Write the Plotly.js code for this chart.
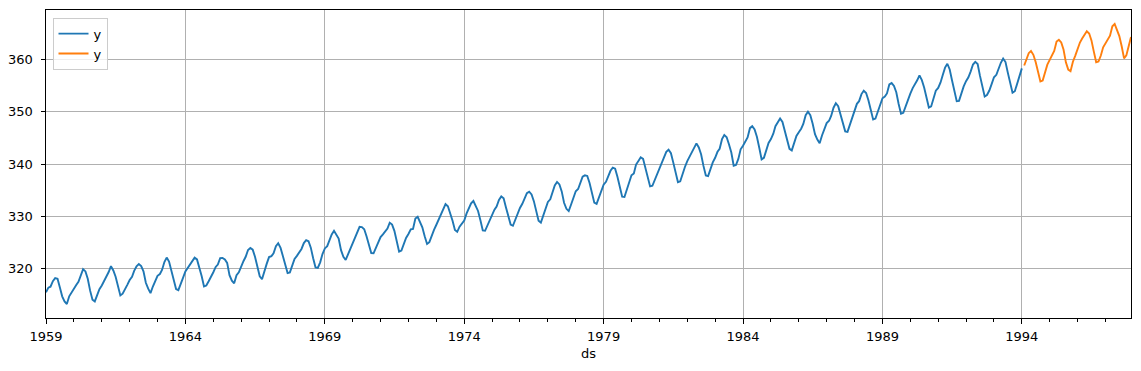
<!DOCTYPE html>
<html>
<head>
<meta charset="utf-8">
<script src="https://cdn.plot.ly/plotly-3.0.1.min.js"></script>
<style>
  html, body { margin: 0; padding: 0; background: #fff; }
  #chart { width: 1141px; height: 371px; }
</style>
</head>
<body>
<div id="chart"></div>
<script>
// Monthly CO2 (ppm), Mauna Loa
const startYear = 1959;
const trainLabel = "y";
const testLabel = "y";
const trainY = [
315.42,316.31,316.50,317.56,318.13,318.00,316.39,314.65,313.68,313.18,314.66,315.43,
316.27,316.81,317.42,318.87,319.87,319.43,318.01,315.74,314.00,313.68,314.84,316.03,
316.73,317.54,318.38,319.31,320.42,319.61,318.42,316.63,314.83,315.16,315.94,316.85,
317.78,318.40,319.53,320.42,320.85,320.45,319.45,317.25,316.11,315.27,316.53,317.53,
318.58,318.92,319.70,321.22,322.08,321.31,319.58,317.61,316.05,315.83,316.91,318.20,
319.41,320.07,320.74,321.40,322.06,321.73,320.27,318.54,316.54,316.71,317.53,318.55,
319.27,320.28,320.73,321.97,322.00,321.71,321.05,318.71,317.66,317.14,318.70,319.25,
320.46,321.43,322.23,323.54,323.91,323.59,322.24,320.20,318.48,317.94,319.63,320.87,
322.17,322.34,322.88,324.25,324.83,323.93,322.38,320.76,319.10,319.24,320.56,321.80,
322.40,322.99,323.73,324.86,325.40,325.20,323.98,321.95,320.18,320.09,321.16,322.74,
323.83,324.26,325.47,326.50,327.21,326.54,325.72,323.50,322.22,321.62,322.69,323.95,
324.89,325.82,326.77,327.97,327.91,327.50,326.18,324.53,322.93,322.90,323.85,324.96,
326.01,326.51,327.01,327.62,328.76,328.40,327.20,325.27,323.20,323.40,324.63,325.85,
326.60,327.47,327.58,329.56,329.90,328.92,327.88,326.16,324.68,325.04,326.34,327.39,
328.37,329.40,330.14,331.33,332.31,331.90,330.70,329.15,327.35,327.02,327.99,328.48,
329.18,330.55,331.32,332.48,332.92,332.08,331.01,329.23,327.27,327.21,328.29,329.41,
330.23,331.25,331.87,333.14,333.80,333.43,331.73,329.90,328.40,328.17,329.32,330.59,
331.58,332.39,333.33,334.41,334.71,334.17,332.89,330.77,329.14,328.78,330.14,331.52,
332.75,333.24,334.53,335.90,336.57,336.10,334.76,332.59,331.42,330.98,332.24,333.68,
334.80,335.22,336.47,337.59,337.84,337.72,336.37,334.51,332.60,332.38,333.75,334.78,
336.05,336.59,337.79,338.71,339.30,339.12,337.56,335.92,333.75,333.70,335.12,336.56,
337.84,338.19,339.91,340.60,341.29,341.00,339.39,337.43,335.72,335.84,336.93,338.04,
339.06,340.30,341.21,342.33,342.74,342.08,340.32,338.26,336.52,336.68,338.19,339.44,
340.57,341.44,342.53,343.39,343.96,343.18,341.88,339.65,337.81,337.69,339.09,340.32,
341.20,342.35,342.93,344.77,345.58,345.14,343.81,342.21,339.69,339.82,340.98,342.82,
343.52,344.33,345.11,346.88,347.25,346.62,345.22,343.11,340.90,341.18,342.80,344.04,
344.79,345.82,347.25,348.17,348.74,348.07,346.38,344.51,342.92,342.62,344.06,345.38,
346.11,346.78,347.68,349.37,350.03,349.37,347.76,345.73,344.68,343.99,345.48,346.72,
347.84,348.29,349.23,350.80,351.66,351.07,349.33,347.92,346.27,346.18,347.64,348.78,
350.25,351.54,352.05,353.41,354.04,353.62,352.22,350.27,348.55,348.72,349.91,351.18,
352.60,352.92,353.53,355.26,355.52,354.97,353.75,351.52,349.64,349.83,351.14,352.37,
353.50,354.55,355.23,356.04,357.00,356.07,354.67,352.76,350.82,351.04,352.69,354.07,
354.59,355.63,357.03,358.48,359.22,358.12,356.06,353.92,352.05,352.11,353.64,354.89,
355.88,356.63,357.72,359.07,359.58,359.17,356.94,354.92,352.94,353.23,354.09,355.33,
356.63,357.10,358.32,359.41,360.23,359.55,357.53,355.48,353.67,353.95,355.30,356.78,
358.34
];
const testY = [
         358.89,359.95,361.25,361.67,360.94,359.55,357.49,355.84,356.00,357.59,359.05,
359.98,361.03,361.66,363.48,363.82,363.30,361.94,359.50,358.11,357.80,359.61,360.74,
362.09,363.29,364.06,364.76,365.45,365.01,363.70,361.54,359.51,359.65,360.80,362.38,
363.23,364.06,364.61,366.40,366.84,365.68,364.52,362.57,360.24,360.83,362.49,364.34
];

function monthDate(i) {
  const y = startYear + Math.floor(i / 12);
  const m = (i % 12) + 1;
  return y + "-" + String(m).padStart(2, "0") + "-01";
}
const trainX = trainY.map((_, i) => monthDate(i));
const testX = testY.map((_, i) => monthDate(trainY.length + i));

const allY = trainY.concat(testY);
const yMin = Math.min(...allY), yMax = Math.max(...allY);
const pad = (yMax - yMin) * 0.05;

function mkFont() { return { family: "DejaVu Sans", size: 13, color: "#000000" }; }

const traces = [
  { x: trainX, y: trainY, name: trainLabel, type: "scatter", mode: "lines",
    line: { color: "#1f77b4", width: 1.9 } },
  { x: testX, y: testY, name: testLabel, type: "scatter", mode: "lines",
    line: { color: "#ff7f0e", width: 1.9 } }
];

const layout = {
  width: 1141, height: 371,
  margin: { l: 46, r: 10, t: 10, b: 53 },
  paper_bgcolor: "#ffffff", plot_bgcolor: "#ffffff",
  font: mkFont(),
  showlegend: true,
  legend: {
    x: 0.006, y: 0.975, xanchor: "left", yanchor: "top",
    bgcolor: "rgba(255,255,255,0.8)", bordercolor: "#cccccc", borderwidth: 1,
    font: mkFont(), tracegroupgap: 0, itemwidth: 30
  },
  xaxis: {
    type: "date",
    range: [trainX[0], testX[testX.length - 1]],
    tick0: "1959-01-01", dtick: "M60", tickformat: "%Y",
    ticks: "outside", ticklen: 4.5, tickwidth: 1, tickcolor: "#000",
    ticklabelstandoff: 2,
    showline: true, linecolor: "#000", linewidth: 1, mirror: true,
    showgrid: true, gridcolor: "#b0b0b0", gridwidth: 1,
    zeroline: false,
    minor: { tick0: "1959-01-01", dtick: "M12", ticks: "outside", ticklen: 2.5,
             tickwidth: 1, tickcolor: "#000", showgrid: false },
    title: { text: "ds", font: mkFont(), standoff: 5 },
    tickfont: mkFont()
  },
  yaxis: {
    range: [yMin - pad, yMax + pad],
    dtick: 10, tick0: 0,
    ticks: "outside", ticklen: 4.5, tickwidth: 1, tickcolor: "#000",
    ticklabelstandoff: 5,
    showline: true, linecolor: "#000", linewidth: 1, mirror: true,
    showgrid: true, gridcolor: "#b0b0b0", gridwidth: 1,
    zeroline: false,
    tickfont: mkFont()
  }
};

Plotly.newPlot("chart", traces, layout, { staticPlot: true, displayModeBar: false });
</script>
</body>
</html>
